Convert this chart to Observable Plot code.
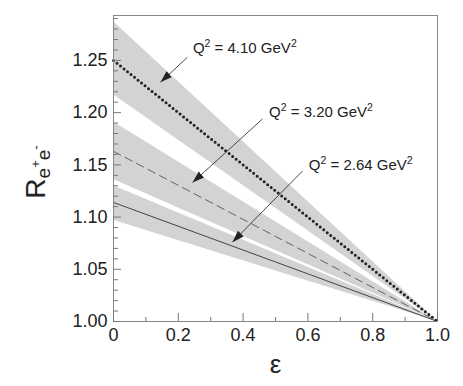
<!DOCTYPE html>
<html><head><meta charset="utf-8">
<script src="https://cdn.jsdelivr.net/npm/d3@7"></script>
<script src="https://cdn.jsdelivr.net/npm/@observablehq/plot@0.6"></script>
<style>
body{margin:0;background:#fff}
svg{font-family:"Liberation Sans",Arial,Helvetica,sans-serif}
</style>
</head><body><div id="chart"></div>
<script>
// ---- data ----
const epsilon = [0, 1];
const q2Values = ["4.10", "3.20", "2.64"];
const centralAt0 = [1.250, 1.163, 1.114];
const lowerAt0   = [1.217, 1.136, 1.097];
const upperAt0   = [1.287, 1.191, 1.130];
const valueAt1   = 1.000;
// annotation anchors (data units)
const labelEps = [0.245, 0.480, 0.603];
const labelR   = [1.262, 1.200, 1.150];
const arrowEps1 = [0.228, 0.460, 0.583];
const arrowR1   = [1.253, 1.194, 1.144];
const arrowEps2 = [0.145, 0.244, 0.367];
const arrowR2   = [1.229, 1.133, 1.076];
const xTicks = [0, 0.2, 0.4, 0.6, 0.8, 1.0];
const xTickLabels = ["0", "0.2", "0.4", "0.6", "0.8", "1.0"];
const xMinor = [0.1, 0.3, 0.5, 0.7, 0.9];
const yTicks = [1.00, 1.05, 1.10, 1.15, 1.20, 1.25];
const yTickLabels = ["1.00", "1.05", "1.10", "1.15", "1.20", "1.25"];
const yMinor = [1.01,1.02,1.03,1.04,1.06,1.07,1.08,1.09,1.11,1.12,1.13,1.14,1.16,1.17,1.18,1.19,1.21,1.22,1.23,1.24,1.26,1.27,1.28,1.29];

// ---- build tables ----
const rows = [];
q2Values.forEach((s, i) => {
  epsilon.forEach(e => {
    rows.push({
      series: s, eps: e,
      c: e === 0 ? centralAt0[i] : valueAt1,
      lo: e === 0 ? lowerAt0[i] : valueAt1,
      hi: e === 0 ? upperAt0[i] : valueAt1
    });
  });
});
const ann = q2Values.map((s, i) => ({
  q2: s, lx: labelEps[i], ly: labelR[i],
  x1: arrowEps1[i], y1: arrowR1[i], x2: arrowEps2[i], y2: arrowR2[i]
}));
const bySeries = s => rows.filter(r => r.series === s);
const font = "'Liberation Sans', Arial, sans-serif";

const chart = Plot.plot({
  width: 463, height: 386,
  marginLeft: 113, marginRight: 26, marginTop: 15, marginBottom: 65,
  x: {domain: [0, 1]},
  y: {domain: [1.0, 1.293]},
  style: {fontSize: "18px", fontFamily: font, color: "#222", background: "#fff"},
  marks: [
    Plot.areaY(rows, {x: "eps", y1: "lo", y2: "hi", z: "series", fill: "#d3d3d3"}),
    Plot.line(bySeries(q2Values[2]), {x: "eps", y: "c", stroke: "#333", strokeWidth: 0.9}),
    Plot.line(bySeries(q2Values[1]), {x: "eps", y: "c", stroke: "#444", strokeWidth: 0.8, strokeDasharray: "8,5"}),
    Plot.line(bySeries(q2Values[0]), {x: "eps", y: "c", stroke: "#222", strokeWidth: 3, strokeLinecap: "round", strokeDasharray: "0,4.5"}),
    Plot.link(ann, {x1: "x1", y1: "y1", x2: "x2", y2: "y2", stroke: "#333", strokeWidth: 0.9, className: "annarrow"}),
    Plot.text(ann, {x: "lx", y: "ly", text: d => "Q2 = " + d.q2 + " GeV2", textAnchor: "start", fontSize: 15, fill: "#222", className: "annlabel"}),
    Plot.frame({stroke: "#888"}),
    // labels
    Plot.axisX({ticks: xTicks, tickSize: 0, tickPadding: 7, tickFormat: (d, i) => xTickLabels[i], label: null}),
    Plot.axisY({ticks: yTicks, tickSize: 0, tickPadding: 6, tickFormat: (d, i) => yTickLabels[i], label: null}),
    // inward ticks
    Plot.axisX({ticks: xTicks, tickSize: -8, text: null, stroke: "#777", label: null}),
    Plot.axisX({ticks: xMinor, tickSize: -4, text: null, stroke: "#777", label: null}),
    Plot.axisY({ticks: yTicks, tickSize: -8, text: null, stroke: "#777", label: null}),
    Plot.axisY({ticks: yMinor, tickSize: -5, text: null, stroke: "#777", label: null}),
    Plot.text(["ε"], {frameAnchor: "bottom", dy: 51, fontSize: 26, fill: "#222"})
  ]
});
document.getElementById("chart").appendChild(chart);

const svg = d3.select(chart);
// filled arrowheads
svg.append("defs").append("marker")
  .attr("id", "ah").attr("viewBox", "0 -5 12 10").attr("refX", 12).attr("refY", 0)
  .attr("markerUnits", "userSpaceOnUse").attr("markerWidth", 12).attr("markerHeight", 10)
  .attr("orient", "auto")
  .append("path").attr("d", "M0,-4L12,0L0,4Z").attr("fill", "#222");
svg.selectAll(".annarrow path").attr("marker-end", "url(#ah)");

// superscripts in the Q² labels
svg.selectAll(".annlabel text").each(function(d, i) {
  const el = d3.select(this);
  const q = ann[i].q2;
  el.text(null);
  el.append("tspan").text("Q");
  el.append("tspan").attr("dy", -6).attr("font-size", 10.5).text("2");
  el.append("tspan").attr("dy", 6).text(" = " + q + " GeV");
  el.append("tspan").attr("dy", -6).attr("font-size", 10.5).text("2");
});

// y-axis title with sub/superscripts
const t = svg.append("text")
  .attr("transform", "translate(45,172) rotate(-90)")
  .attr("text-anchor", "middle")
  .attr("fill", "#222")
  .style("font-family", font);
t.append("tspan").attr("font-size", 28).text("R");
t.append("tspan").attr("font-size", 19).attr("dy", 5).text("e");
t.append("tspan").attr("font-size", 13).attr("dy", -10).text("+");
t.append("tspan").attr("font-size", 19).attr("dy", 10).text("e");
t.append("tspan").attr("font-size", 13).attr("dy", -10).text("-");
</script>
</body></html>
